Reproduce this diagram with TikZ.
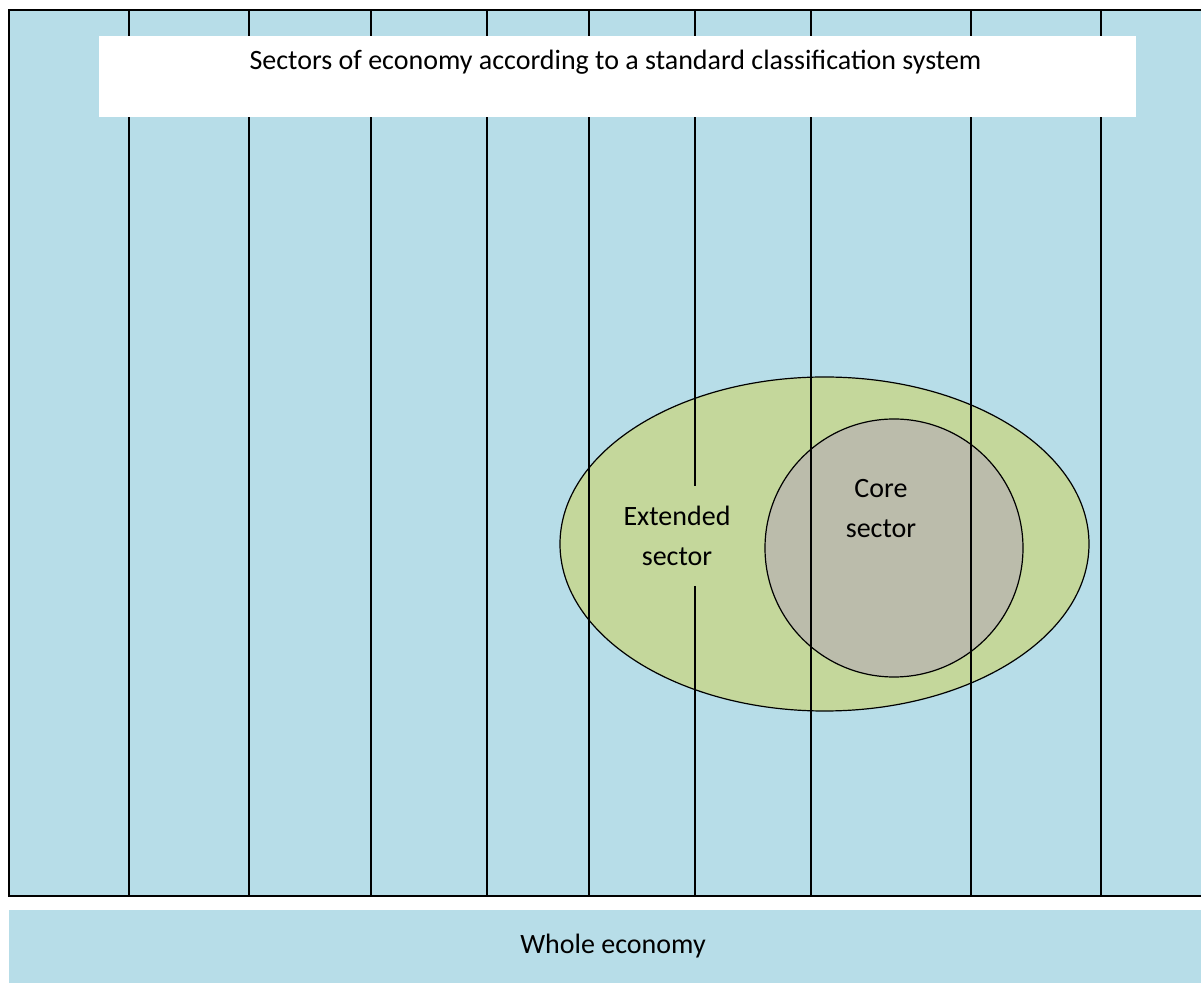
\documentclass[tikz,border=0pt]{standalone}
\usepackage{fontspec}
\setmainfont{Carlito}
\usepackage{tikz}
\usetikzlibrary{shapes,positioning,calc}

\definecolor{seablue}{HTML}{B7DDE8}
\definecolor{olivegreen}{HTML}{C4D79B}
\definecolor{coregrey}{HTML}{BBBCAB}

\begin{document}
\begin{tikzpicture}[x=0.5pt,y=-0.5pt,
    label text/.style={font=\fontsize{14}{20}\selectfont, align=center, inner sep=0pt},
    sector line/.style={line width=0.6pt}]
    \useasboundingbox (0,0) rectangle (1201,983);

    % whole economy box and bar
    \fill [seablue] (9,10) rectangle (1201,896);
    \draw [line width=0.8pt] (1201,10) -- (9,10) -- (9,896) -- (1201,896);
    \fill [seablue] (9,910) rectangle (1201,983);
    \node [label text] (whole) at (613,946) {Whole economy};

    % extended and core sectors
    \node [ellipse, draw, fill=olivegreen, line width=0.6pt, minimum width=264.5pt, minimum height=167pt, inner sep=0pt] (ext) at (824.5,544) {};
    \node [circle, draw, fill=coregrey, line width=0.6pt, minimum size=129pt, inner sep=0pt] (core) at (894,548) {};

    % sector divisions
    \foreach \x in {129,249,371,487,589,811,971,1101}
        \draw [sector line] (\x,10) -- (\x,896);
    \draw [sector line] (695,10) -- (695,486);
    \draw [sector line] (695,586) -- (695,896);

    % classification banner
    \fill [white] (99,36) rectangle (1136,117);
    \node [label text] (classes) at (615.5,62) {Sectors of economy according to a standard classification system};

    \node [label text] (extlabel) at (677,536) {Extended\\sector};
    \node [label text] (corelabel) at (881,509) {Core\\sector};
\end{tikzpicture}
\end{document}
